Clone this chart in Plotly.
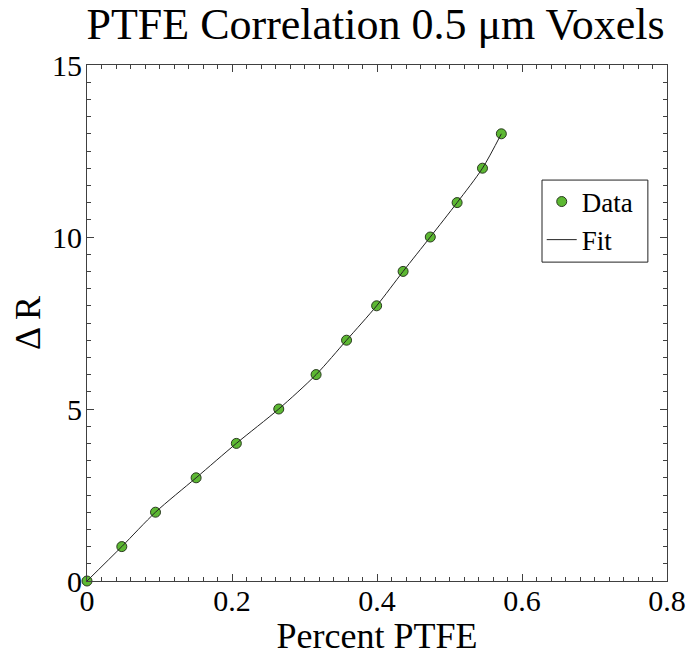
import plotly.graph_objects as go

pct_ptfe = [0.0, 0.048, 0.0945, 0.1505, 0.206, 0.2645, 0.316, 0.358, 0.3995,
            0.436, 0.4735, 0.5105, 0.5455, 0.5715]
delta_r = [0, 1, 2, 3, 4, 5, 6, 7, 8, 9, 10, 11, 12, 13]

x_ticks = [0, 0.2, 0.4, 0.6, 0.8]
x_tick_text = ["0", "0.2", "0.4", "0.6", "0.8"]
y_ticks = [0, 5, 10, 15]
y_tick_text = ["0", "5", "10", "15"]

FONT = "Liberation Serif"
AX = "#404040"

fig = go.Figure()
fig.add_trace(go.Scatter(
    x=pct_ptfe, y=delta_r, mode="markers", name="Data",
    marker=dict(color="#5cb832", size=10, line=dict(color="#2a3a20", width=1)),
    cliponaxis=False,
))
fig.add_trace(go.Scatter(
    x=pct_ptfe, y=delta_r, mode="lines", name="Fit",
    line=dict(color="#222222", width=1, shape="spline", smoothing=0.8),
    cliponaxis=False,
))

axis_common = dict(
    showgrid=False, zeroline=False, showline=True, linecolor=AX, linewidth=1,
    mirror="ticks", ticks="inside", ticklen=7, tickcolor=AX, tickwidth=1,
    tickfont=dict(family=FONT, size=30, color="black"), automargin=False,
)

fig.update_layout(
    width=689, height=656,
    margin=dict(l=87, r=22, t=65, b=75),
    paper_bgcolor="white", plot_bgcolor="white",
    font=dict(family=FONT, color="black"),
    title=dict(text="PTFE Correlation 0.5 μm Voxels", x=0.545, xanchor="center",
               y=0.964, yanchor="middle", font=dict(family=FONT, size=44, color="black")),
    xaxis=dict(range=[0, 0.8], tickvals=x_ticks, ticktext=x_tick_text,
               minor=dict(dtick=0.02, ticks="inside", ticklen=4, tickcolor=AX),
               ticklabelstandoff=-7,
               title=dict(text="Percent PTFE", font=dict(family=FONT, size=36), standoff=2),
               **axis_common),
    yaxis=dict(range=[0, 15], tickvals=y_ticks, ticktext=y_tick_text,
               minor=dict(dtick=0.5, ticks="inside", ticklen=4, tickcolor=AX),
               ticklabelstandoff=-2,
               title=dict(text="Δ R", font=dict(family=FONT, size=36), standoff=0),
               **axis_common),
    legend=dict(x=0.784, y=0.782, xanchor="left", yanchor="top",
                bgcolor="rgba(0,0,0,0)", borderwidth=0,
                font=dict(family=FONT, size=27, color="black"),
                itemwidth=30, tracegroupgap=0),
    shapes=[dict(type="rect", xref="paper", yref="paper",
                 x0=0.7845, x1=0.967, y0=0.618, y1=0.777,
                 line=dict(color="#222222", width=1), fillcolor="white", layer="below")],
    showlegend=True,
)

fig.write_html("out.html")
